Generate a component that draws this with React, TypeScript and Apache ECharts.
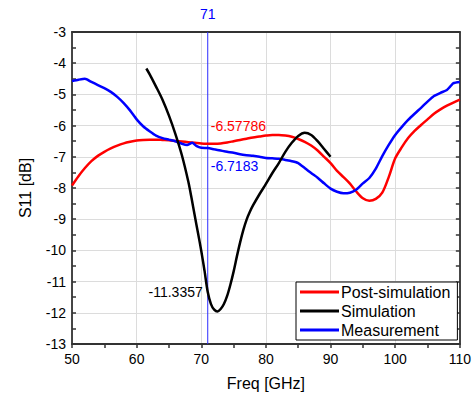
import React, { useEffect, useRef } from "react";
import * as echarts from "echarts";

const postSimFreq = [50, 51, 52, 53, 54, 55, 56, 57, 58, 59, 60, 61, 62, 63, 64, 65, 66, 67, 68, 69, 70, 71, 72, 73, 74, 75, 76, 77, 78, 79, 80, 81, 82, 83, 84, 85, 86, 87, 88, 89, 90, 91, 92, 93, 94, 95, 96, 97, 98, 99, 100, 101, 102, 103, 104, 105, 106, 107, 108, 109, 110];
const postSimS11 = [-7.92, -7.62, -7.36, -7.14, -6.97, -6.84, -6.73, -6.64, -6.57, -6.52, -6.48, -6.46, -6.45, -6.45, -6.46, -6.47, -6.49, -6.51, -6.53, -6.55, -6.57, -6.57786, -6.58, -6.57, -6.54, -6.5, -6.46, -6.42, -6.38, -6.35, -6.32, -6.3, -6.3, -6.32, -6.36, -6.43, -6.52, -6.64, -6.8, -7.0, -7.2, -7.45, -7.65, -7.86, -8.12, -8.33, -8.41, -8.35, -8.15, -7.65, -7.05, -6.7, -6.4, -6.17, -5.98, -5.8, -5.62, -5.48, -5.36, -5.26, -5.17];

const simFreq = [61.5, 62, 63, 64, 65, 66, 67, 68, 68.5, 69, 69.5, 70, 70.5, 71, 71.5, 72, 72.5, 73, 73.5, 74, 74.5, 75, 75.5, 76, 76.5, 77, 77.5, 78, 79, 80, 81, 82, 83, 84, 85, 86, 87, 88, 89, 90];
const simS11 = [-4.17, -4.35, -4.75, -5.17, -5.68, -6.27, -6.95, -7.8, -8.33, -8.9, -9.45, -10.02, -10.65, -11.3357, -11.72, -11.9, -11.96, -11.88, -11.72, -11.46, -11.1, -10.68, -10.2, -9.75, -9.35, -9.02, -8.77, -8.56, -8.2, -7.87, -7.52, -7.2, -6.84, -6.55, -6.33, -6.23, -6.3, -6.5, -6.75, -7.0];

const measFreq = [50, 51, 52, 53, 54, 55, 56, 57, 58, 59, 60, 61, 62, 63, 64, 65, 66, 67, 67.8, 68.6, 69.3, 70, 71, 72, 73, 74, 75, 76, 77, 78, 79, 80, 81, 82, 83, 84, 85, 86, 87, 88, 89, 90, 91, 92, 93, 94, 95, 96, 97, 98, 99, 100, 101, 102, 103, 104, 105, 106, 107, 108, 108.5, 109, 110];
const measS11 = [-4.57, -4.53, -4.5, -4.6, -4.7, -4.8, -4.92, -5.08, -5.28, -5.52, -5.8, -6.02, -6.18, -6.32, -6.4, -6.45, -6.5, -6.58, -6.62, -6.55, -6.66, -6.71, -6.7183, -6.76, -6.8, -6.84, -6.87, -6.92, -6.95, -6.97, -7.0, -7.04, -7.05, -7.06, -7.1, -7.14, -7.2, -7.36, -7.52, -7.67, -7.85, -8.02, -8.12, -8.17, -8.15, -8.05, -7.85, -7.68, -7.38, -6.98, -6.62, -6.3, -6.05, -5.82, -5.62, -5.43, -5.23, -5.05, -4.95, -4.86, -4.75, -4.64, -4.6];

const markerFreq = 71;
const markerPost = -6.57786;
const markerMeas = -6.7183;
const markerSim = -11.3357;
const yMin = -13;
const yMax = -3;

const seriesNames = ["Post-simulation", "Simulation", "Measurement"];

const FONT = "'Liberation Sans', Arial, sans-serif";

function pairs(xs: number[], ys: number[]) {
  return xs.map((x, i) => [x, ys[i]]);
}

export default function App() {
  const ref = useRef<HTMLDivElement>(null);
  useEffect(() => {
    if (!ref.current) return;
    const chart = echarts.init(ref.current, undefined, { renderer: "svg" });
    const axisLineStyle = { color: "#333", width: 1.8 };
    const markerLabel = (text: string, color: string, position: string, offset: number[]) => ({
      show: true,
      formatter: text,
      position,
      offset,
      color,
      fontSize: 14,
      fontFamily: FONT,
    });
    const option: any = {
      animation: false,
      backgroundColor: "#fff",
      textStyle: { fontFamily: FONT },
      grid: { left: 72, right: 11, top: 32, bottom: 48, containLabel: false },
      legend: {
        orient: "vertical",
        left: 296,
        top: 282,
        data: seriesNames,
        icon: "rect",
        itemWidth: 39,
        itemHeight: 3,
        itemGap: 3,
        padding: [2, 7, 2, 4],
        borderColor: "#000",
        borderWidth: 1,
        borderRadius: 0,
        backgroundColor: "#fff",
        textStyle: { fontSize: 16, color: "#000", fontFamily: FONT, padding: [0, 0, 0, -3] },
      },
      xAxis: [
        {
          type: "value",
          min: 50,
          max: 110,
          interval: 10,
          name: "Freq [GHz]",
          nameLocation: "middle",
          nameGap: 31,
          nameTextStyle: { fontSize: 16, color: "#000", fontFamily: FONT },
          axisLine: { show: true, onZero: false, lineStyle: axisLineStyle },
          axisTick: { show: true, inside: false, length: 4, lineStyle: { color: "#333", width: 1.5 } },
          minorTick: { show: true, splitNumber: 2, length: 4, lineStyle: { color: "#333", width: 1.5 } },
          axisLabel: { fontSize: 14, color: "#000", margin: 8, fontFamily: FONT },
          splitLine: { show: true, lineStyle: { color: "#dcdcdc", width: 1 } },
        },
        {
          type: "value",
          position: "top",
          min: 50,
          max: 110,
          interval: 10,
          axisLine: { show: true, onZero: false, lineStyle: axisLineStyle },
          axisTick: { show: false },
          axisLabel: { show: false },
          splitLine: { show: false },
        },
      ],
      yAxis: [
        {
          type: "value",
          min: yMin,
          max: yMax,
          interval: 1,
          name: "S11 [dB]",
          nameLocation: "middle",
          nameGap: 39,
          nameTextStyle: { fontSize: 16, color: "#000", fontFamily: FONT },
          axisLine: { show: true, onZero: false, lineStyle: axisLineStyle },
          axisTick: { show: true, inside: true, length: 4, lineStyle: { color: "#333", width: 1.5 } },
          minorTick: { show: true, splitNumber: 2, length: 4, lineStyle: { color: "#333", width: 1.5 } },
          axisLabel: { fontSize: 14, color: "#000", margin: 6, fontFamily: FONT },
          splitLine: { show: true, lineStyle: { color: "#dcdcdc", width: 1 } },
        },
        {
          type: "value",
          position: "right",
          min: yMin,
          max: yMax,
          interval: 1,
          axisLine: { show: true, onZero: false, lineStyle: axisLineStyle },
          axisTick: { show: true, inside: true, length: 4, lineStyle: { color: "#333", width: 1.5 } },
          minorTick: { show: true, splitNumber: 2, length: 4, lineStyle: { color: "#333", width: 1.5 } },
          axisLabel: { show: false },
          splitLine: { show: false },
        },
      ],
      series: [
        {
          name: "marker",
          type: "line",
          data: [[markerFreq, yMin], [markerFreq, yMax]],
          showSymbol: false,
          silent: true,
          color: "#2a2aff",
          lineStyle: { width: 1, color: "#2a2aff" },
          z: 2,
          markPoint: {
            symbol: "circle",
            symbolSize: 0,
            data: [{ coord: [markerFreq, yMax], label: markerLabel(String(markerFreq), "#0000ff", "top", [0, -6]) }],
          },
        },
        {
          name: seriesNames[0],
          type: "line",
          data: pairs(postSimFreq, postSimS11),
          showSymbol: false,
          smooth: 0.3,
          color: "#ff0000",
          lineStyle: { width: 2.5, color: "#ff0000" },
          z: 3,
          markPoint: {
            symbol: "circle",
            symbolSize: 0,
            data: [{ coord: [markerFreq, markerPost], label: markerLabel(String(markerPost), "#ff0000", "right", [-2, -18]) }],
          },
        },
        {
          name: seriesNames[1],
          type: "line",
          data: pairs(simFreq, simS11),
          showSymbol: false,
          smooth: 0.3,
          color: "#000000",
          lineStyle: { width: 2.5, color: "#000000" },
          z: 4,
          markPoint: {
            symbol: "circle",
            symbolSize: 0,
            data: [{ coord: [markerFreq, markerSim], label: markerLabel(String(markerSim), "#000000", "left", [0, 0]) }],
          },
        },
        {
          name: seriesNames[2],
          type: "line",
          data: pairs(measFreq, measS11),
          showSymbol: false,
          smooth: 0.2,
          color: "#0000ff",
          lineStyle: { width: 2.5, color: "#0000ff" },
          z: 3,
          markPoint: {
            symbol: "circle",
            symbolSize: 0,
            data: [{ coord: [markerFreq, markerMeas], label: markerLabel(String(markerMeas), "#0000ff", "right", [-2, 18]) }],
          },
        },
      ],
    };
    chart.setOption(option);
    return () => chart.dispose();
  }, []);
  return <div ref={ref} style={{ width: 474, height: 396, position: "absolute", left: 0, top: 0 }} />;
}
